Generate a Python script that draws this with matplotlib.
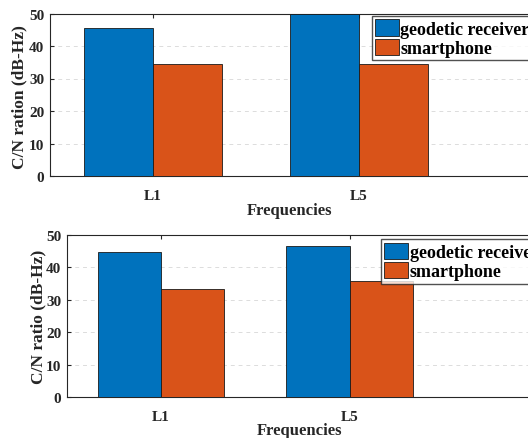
import matplotlib
matplotlib.use("Agg")
import numpy as np
import matplotlib.pyplot as plt

plt.rcParams['font.family'] = ['Liberation Serif', 'DejaVu Serif']
plt.rcParams['font.weight'] = 'bold'

freqs = ['L1', 'L5']
series = ['geodetic receiver', 'smartphone']
top_geodetic = [45.5, 49.8]
top_phone = [34.4, 34.4]
bot_geodetic = [44.7, 46.7]
bot_phone = [33.4, 35.7]

c_blue = '#0072BD'
c_orange = '#D95319'

fig = plt.figure(figsize=(5.28, 4.39), dpi=100)

# axes boxes run past the right edge of the picture, as in the reference
ax1 = fig.add_axes([50/528, (439-177)/439, 500/528, 162.5/439])
ax2 = fig.add_axes([66.7/528, (439-398.3)/439, 480/528, 162.3/439])

panels = [
    (ax1, top_geodetic, top_phone, 'C/N ration (dB-Hz)', 206.0, 500.0,
     (0.643, 0.986), (-0.046, 0.49), (0.48, -0.16)),
    (ax2, bot_geodetic, bot_phone, 'C/N ratio (dB-Hz)', 188.6, 480.0,
     (0.654, 0.975), (-0.043, 0.5), (0.486, -0.155)),
]

x = np.arange(1, len(freqs) + 1)
w = 0.335
for ax, g, p, ylab, ppu, wpx, leg_xy, ylab_xy, xlab_xy in panels:
    ax.bar(x - w/2, g, w, color=c_blue, edgecolor='#1a1a1a', linewidth=0.6,
           label=series[0], zorder=3)
    ax.bar(x + w/2, p, w, color=c_orange, edgecolor='#1a1a1a', linewidth=0.6,
           label=series[1], zorder=3)
    ax.set_xlim(0.5, 0.5 + wpx/ppu)
    ax.set_ylim(0, 50)
    ax.set_xticks(x)
    ax.set_xticklabels(freqs)
    ax.set_yticks(np.arange(0, 51, 10))
    ax.tick_params(direction='in', top=True, right=True, labelsize=11,
                   length=3, width=0.8, colors='#262626',
                   labelcolor='#262626')
    ax.tick_params(axis='x', pad=9)
    ax.tick_params(axis='y', pad=4)
    ax.grid(axis='y', linestyle=(0, (4, 4)), color='#dcdcdc', linewidth=0.7,
            zorder=0)
    for s in ax.spines.values():
        s.set_color('#262626')
        s.set_linewidth(0.8)
    ax.set_ylabel(ylab, fontsize=12.5, fontweight='bold', color='#262626')
    ax.yaxis.set_label_coords(*ylab_xy)
    ax.set_xlabel('Frequencies', fontsize=12, fontweight='bold',
                  color='#262626')
    ax.xaxis.set_label_coords(*xlab_xy)
    leg = ax.legend(loc='upper left', bbox_to_anchor=leg_xy, fontsize=13,
                    frameon=True, fancybox=False, edgecolor='#262626',
                    handlelength=1.3, handleheight=1.0, handletextpad=0.1,
                    borderpad=0.2, labelspacing=0.05, borderaxespad=0)
    leg.get_frame().set_linewidth(1.0)
    leg.set_zorder(5)

fig.savefig('out.png', dpi=100)
